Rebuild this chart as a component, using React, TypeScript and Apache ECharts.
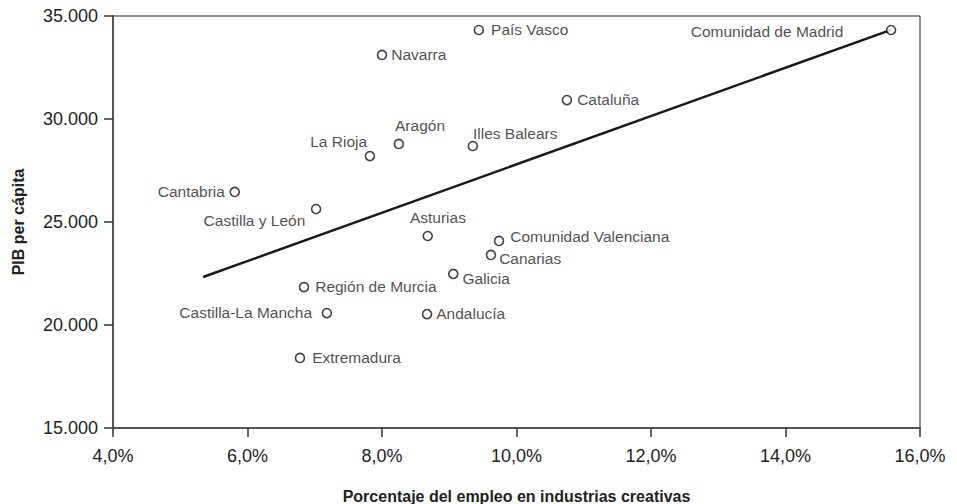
import React, { useEffect, useRef } from "react";
import * as echarts from "echarts";

const regions = [
  "País Vasco", "Comunidad de Madrid", "Navarra", "Cataluña", "Aragón", "Illes Balears",
  "La Rioja", "Cantabria", "Castilla y León", "Asturias", "Comunidad Valenciana", "Canarias",
  "Galicia", "Región de Murcia", "Castilla-La Mancha", "Andalucía", "Extremadura",
];
const empleoPct = [9.44, 15.57, 8.0, 10.75, 8.25, 9.35, 7.82, 5.81, 7.02, 8.68, 9.74, 9.62, 9.06, 6.84, 7.18, 8.67, 6.78];
const pibPerCapita = [34320, 34320, 33110, 30920, 28790, 28690, 28200, 26460, 25630, 24320, 24080, 23400, 22480, 21840, 20580, 20530, 18400];

const trendX = [5.34, 15.57];
const trendY = [22330, 34330];

const xTicks = { min: 4, max: 16, interval: 2 };
const yTicks = { min: 15000, max: 35000, interval: 5000 };

// label placement relative to point center: [dx, dy, align]
const labelPlace: Record<string, [number, number, string]> = {
  "País Vasco": [13, 0, "left"],
  "Comunidad de Madrid": [-47, 2, "right"],
  "Navarra": [10, 0, "left"],
  "Cataluña": [11, 0, "left"],
  "Aragón": [22, -18, "center"],
  "Illes Balears": [1, -12, "left"],
  "La Rioja": [-2, -14, "right"],
  "Cantabria": [-9, 0, "right"],
  "Castilla y León": [-10, 12, "right"],
  "Asturias": [11, -18, "center"],
  "Comunidad Valenciana": [12, -4, "left"],
  "Canarias": [9, 4, "left"],
  "Galicia": [10, 5, "left"],
  "Región de Murcia": [12, 0, "left"],
  "Castilla-La Mancha": [-14, 0, "right"],
  "Andalucía": [10, 0, "left"],
  "Extremadura": [13, 0, "left"],
};

const FONT = "'Liberation Sans', Arial, Helvetica, sans-serif";
const SYM = 9;

export default function App() {
  const ref = useRef<HTMLDivElement>(null);
  useEffect(() => {
    if (!ref.current) return;
    const chart = echarts.init(ref.current, null, { renderer: "svg" });
    const scatterData = regions.map((name, i) => {
      const [dx, dy, align] = labelPlace[name];
      return {
        name,
        value: [empleoPct[i], pibPerCapita[i]],
        label: {
          show: true,
          formatter: name,
          position: [SYM / 2 + dx, SYM / 2 + dy],
          align,
          verticalAlign: "middle",
        },
      };
    });
    chart.setOption({
      animation: false,
      textStyle: { fontFamily: FONT },
      grid: {
        left: 113, right: 37, top: 16, bottom: 76,
        outerBoundsMode: "none",
        containLabel: false,
        show: true, borderColor: "#222", borderWidth: 1, backgroundColor: "transparent",
      },
      xAxis: {
        type: "value",
        min: xTicks.min, max: xTicks.max, interval: xTicks.interval,
        name: "Porcentaje del empleo en industrias creativas",
        nameLocation: "middle",
        nameGap: 60,
        nameTextStyle: { fontFamily: FONT, fontSize: 16, fontWeight: "bold", color: "#222" },
        axisLine: { show: true, onZero: false, lineStyle: { color: "#555", width: 2 } },
        axisTick: { show: true, length: 9, lineStyle: { color: "#333", width: 1.5 } },
        axisLabel: {
          fontFamily: FONT, fontSize: 18, color: "#222", margin: 19,
          formatter: (v: number) => v.toFixed(1).replace(".", ",") + "%",
        },
        splitLine: { show: false },
      },
      yAxis: {
        type: "value",
        min: yTicks.min, max: yTicks.max, interval: yTicks.interval,
        name: "PIB per cápita",
        nameLocation: "middle",
        nameGap: 87,
        nameTextStyle: { fontFamily: FONT, fontSize: 16, fontWeight: "bold", color: "#222" },
        axisLine: { show: true, onZero: false, lineStyle: { color: "#555", width: 2 } },
        axisTick: { show: true, length: 9, lineStyle: { color: "#333", width: 1.5 } },
        axisLabel: {
          fontFamily: FONT, fontSize: 18, color: "#222", margin: 15,
          formatter: (v: number) => v.toLocaleString("de-DE"),
        },
        splitLine: { show: false },
      },
      series: [
        {
          type: "line",
          data: trendX.map((x, i) => [x, trendY[i]]),
          symbol: "none",
          lineStyle: { color: "#1a1a1a", width: 2.5 },
          z: 2,
          silent: true,
        },
        {
          type: "scatter",
          data: scatterData,
          symbol: "circle",
          symbolSize: SYM,
          itemStyle: { color: "#fff", borderColor: "#111", borderWidth: 1.6 },
          label: { fontFamily: FONT, fontSize: 15.5, color: "#222" },
          labelLayout: { hideOverlap: false },
          z: 3,
        },
      ],
    });
    return () => chart.dispose();
  }, []);
  return <div ref={ref} style={{ width: 957, height: 504, position: "absolute", left: 0, top: 0 }} />;
}
